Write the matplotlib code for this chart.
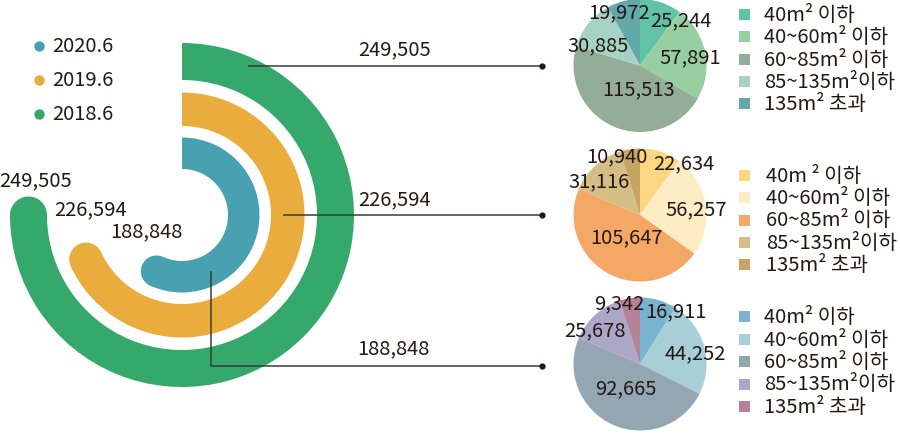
import numpy as np
import matplotlib
matplotlib.use("Agg")
import matplotlib.pyplot as plt
from matplotlib.patches import Wedge, Circle

plt.rcParams['font.family'] = ['Noto Sans CJK KR', 'DejaVu Sans']

# data
years = ['2020.6', '2019.6', '2018.6']
totals = [188848, 226594, 249505]
size_labels = ['40m² 이하', '40~60m² 이하', '60~85m² 이하', '85~135m²이하', '135m² 초과']
size_labels_2019 = ['40m ² 이하', '40~60m² 이하', '60~85m² 이하', '85~135m²이하', '135m² 초과']
vals_2018 = [25244, 57891, 115513, 30885, 19972]
vals_2019 = [22634, 56257, 105647, 31116, 10940]
vals_2020 = [16911, 44252, 92665, 25678, 9342]

TXT = '#231815'
ring_colors = ['#48a1b1', '#eaac3c', '#35a96b']
pie_colors_2018 = ['#62c2a8', '#98cfa2', '#93ad99', '#a5d2c3', '#64a9a9']
pie_colors_2019 = ['#fdd682', '#feecc4', '#f5a865', '#d5bd86', '#c7a464']
pie_colors_2020 = ['#7ab3cf', '#a8cfd8', '#94a6b2', '#aca7c8', '#b58295']

FS = 14.5

fig = plt.figure(figsize=(9, 4.35), dpi=100)
ax = fig.add_axes([0, 0, 1, 1])

# radial bars (inner -> outer), 12 o'clock clockwise, max value = 270 deg
cx, cy = 182, 216
ring_radii = [(46, 77.5), (89, 122.5), (135, 172)]
ring_label_pos = [(146, 232), (91, 210), (36, 181)]
max_total = max(totals)
for tot, (r_in, r_out), col, (lx, ly) in zip(totals, ring_radii, ring_colors, ring_label_pos):
    sweep = tot / max_total * 270
    ax.add_patch(Wedge((cx, cy), r_out, -90, -90 + sweep, width=r_out - r_in,
                       facecolor=col, edgecolor='none'))
    rm = (r_in + r_out) / 2
    th = np.radians(-90 + sweep)
    ex, ey = cx + rm * np.cos(th), cy + rm * np.sin(th)
    ax.add_patch(Circle((ex, ey), (r_out - r_in) / 2, facecolor=col, edgecolor='none'))
    ax.text(lx, ly, f'{tot:,}', ha='center', va='center', fontsize=FS, color=TXT)

# legend of years
for i, (yr, col) in enumerate(zip(years, ring_colors)):
    y = 46.5 + i * 34
    ax.plot(39, y, 'o', ms=7.5, color=col, mec='none')
    ax.text(52, y, yr, ha='left', va='center', fontsize=FS, color=TXT)

# connectors
conn_paths = [([248, 542], [67, 67]),
              ([283, 542], [216, 216]),
              ([211, 211, 542], [272, 367, 367])]
conn_label_pos = [(395, 50), (395, 200), (393, 349)]
for (xs, ys), (lx, ly), tot in zip(conn_paths, conn_label_pos, totals[::-1]):
    ax.plot(xs, ys, color='#3a3a3a', lw=1.1, solid_capstyle='butt')
    ax.plot(xs[-1], ys[-1], 'o', ms=3.5, color='#231815')
    ax.text(lx, ly, f'{tot:,}', ha='center', va='center', fontsize=FS, color=TXT)

# pies
pies = [
    (vals_2018, pie_colors_2018, size_labels, (640, 66.5), 764, 15.3,
     [(40.7, -45.3), (50.7, -8.7), (-1, 23.7), (-41.7, -20.3), (-21, -53.7)]),
    (vals_2019, pie_colors_2019, size_labels_2019, (640, 216), 766, 176.2,
     [(44, -52.7), (56.7, -6), (-13.3, 21.3), (-41, -34.3), (-23, -59.3)]),
    (vals_2020, pie_colors_2020, size_labels, (640, 365), 764, 317.8,
     [(35.7, -53.3), (55.7, -11.7), (-14.3, 24), (-45, -34.3), (-21, -61.7)]),
]
R = 66.5
for vals, cols, labs, (pcx, pcy), tx, ty0, offs in pies:
    ax.pie(vals, colors=cols, center=(pcx, pcy), radius=R, startangle=-90,
           counterclock=True, wedgeprops=dict(linewidth=0))
    for v, (ox, oy) in zip(vals, offs):
        ax.text(pcx + ox, pcy + oy, f'{v:,}', ha='center', va='center',
                fontsize=FS, color=TXT)
    for j, (lab, col) in enumerate(zip(labs, cols)):
        y = ty0 + j * 22.4
        ax.add_patch(plt.Rectangle((739, y - 5.5), 11, 11, facecolor=col, edgecolor='none'))
        ax.text(tx, y, lab, ha='left', va='center', fontsize=FS, color=TXT)

ax.set_xlim(0, 900)
ax.set_ylim(435, 0)
ax.set_aspect('auto')
ax.axis('off')

fig.savefig('out.png', dpi=100)
